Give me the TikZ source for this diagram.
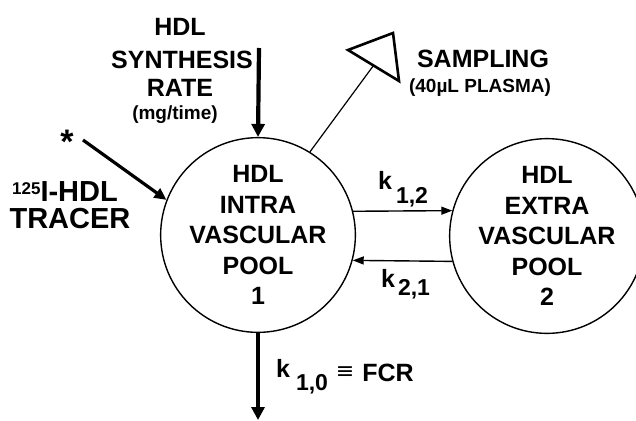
\documentclass[tikz,border=0pt]{standalone}
\usepackage{fontspec}
\setmainfont{Liberation Sans}
\newfontfamily\symfont{DejaVu Sans}
\usetikzlibrary{arrows.meta,calc}
\begin{document}
\begin{tikzpicture}[x=1pt,y=-1pt,
  lbl/.style={font=\fontsize{25}{25}\selectfont\bfseries, inner sep=0pt},
  biglbl/.style={font=\fontsize{29}{29}\selectfont\bfseries, inner sep=0pt},
  smalllbl/.style={font=\fontsize{19}{19}\selectfont\bfseries, inner sep=0pt},
  sublbl/.style={font=\fontsize{23}{23}\selectfont\bfseries, inner sep=0pt},
  pool/.style={circle, draw, line width=1.4pt, minimum size=180pt, inner sep=0pt,
    align=center, font=\fontsize{25}{30.5}\selectfont\bfseries},
  heavyarrow/.style={line width=4.2pt, -{Triangle[length=13pt,width=13pt]}},
  midarrow/.style={line width=3.2pt, -{Triangle[length=12pt,width=11pt]}},
  thinarrow/.style={line width=1.4pt, -{Triangle[length=11pt,width=8pt]}},
]
\useasboundingbox (0,0) rectangle (636,420);

% pools
\node[pool] (c1) at (258,235) {HDL\\INTRA\\VASCULAR\\POOL\\1};
\node[pool, minimum size=175pt] (c2) at (547,236) {HDL\\EXTRA\\VASCULAR\\POOL\\2};

% synthesis
\node[lbl] (syn1) at (180,27) {HDL};
\node[lbl] (syn2) at (182,60) {SYNTHESIS};
\node[lbl] (syn3) at (180,88) {RATE};
\node[smalllbl] (syn4) at (175,115) {(mg/time)};
\coordinate (synstart) at (259,48);
\draw[heavyarrow] (synstart) -- (c1.north);

% tracer
\node[font=\fontsize{34}{34}\selectfont\bfseries, inner sep=0pt] (star) at (67,142) {*};
\coordinate (trstart) at (83,140);
\draw[midarrow] (trstart) -- (c1.159);
\node[biglbl] (tr1) at (65,192) {\raisebox{7pt}{\fontsize{17}{17}\selectfont 125}I-HDL};
\node[biglbl] (tr2) at (70,219) {TRACER};

% sampling
\coordinate (tA) at (348,50);
\coordinate (tB) at (393,33);
\coordinate (tC) at (399,81);
\draw[line width=2.6pt, line join=miter] (tA) -- (tB) -- (tC) -- cycle;
\coordinate (tmid) at ($(tA)!0.5!(tC)$);
\draw[line width=1.2pt] (c1.58) -- (tmid);
\node[lbl] (samp) at (483,59) {SAMPLING};
\node[smalllbl] (plasma) at (480,88) {(40\textmu L PLASMA)};

% exchange
\draw[thinarrow] (c1.14) -- (c2.165);
\draw[thinarrow] (c2.195) -- (c1.-15);
\node[lbl] (k12) at (385,180) {k};
\node[sublbl] (k12s) at (412,197) {1,2};
\node[lbl] (k21) at (388,278) {k};
\node[sublbl] (k21s) at (414,289) {2,1};

% elimination
\coordinate (elim) at (258,420);
\draw[heavyarrow] (c1.south) -- (elim);
\node[lbl] (k10) at (283,368) {k};
\node[sublbl] (k10s) at (312,384) {1,0};
\node[inner sep=0pt, font=\symfont\fontsize{22}{22}\selectfont] (equiv) at (345,373) {≡};
\node[lbl] (fcr) at (388,373) {FCR};
\end{tikzpicture}
\end{document}
